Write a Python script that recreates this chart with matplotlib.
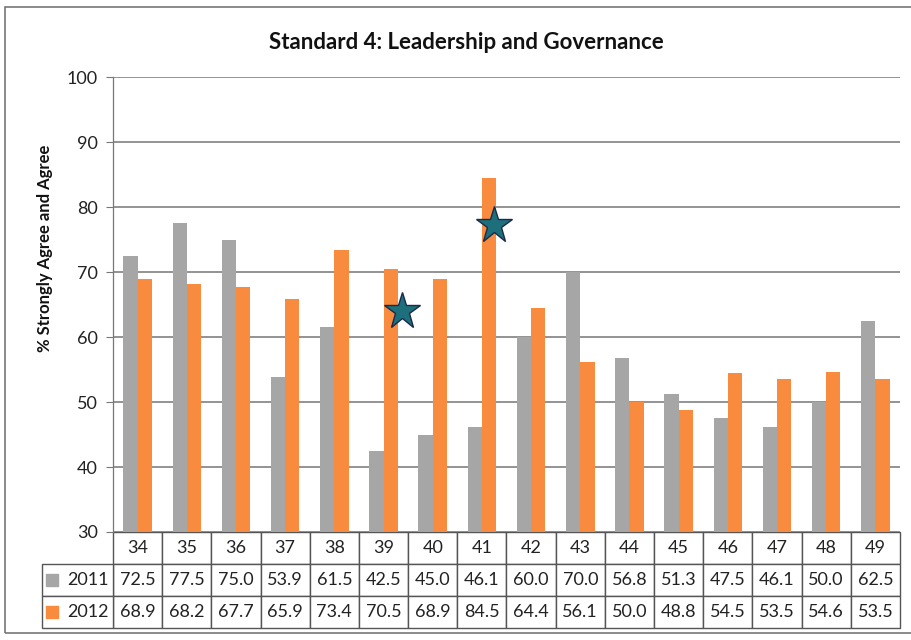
import numpy as np
import matplotlib
matplotlib.use('Agg')
import matplotlib.pyplot as plt
from matplotlib.patches import Rectangle

plt.rcParams['font.family'] = ['Lato', 'DejaVu Sans']

# Dados do gráfico
categories = ['34', '35', '36', '37', '38', '39', '40', '41',
              '42', '43', '44', '45', '46', '47', '48', '49']
values_2011 = [72.5, 77.5, 75.0, 53.9, 61.5, 42.5, 45.0, 46.1,
               60.0, 70.0, 56.8, 51.3, 47.5, 46.1, 50.0, 62.5]
values_2012 = [68.9, 68.2, 67.7, 65.9, 73.4, 70.5, 68.9, 84.5,
               64.4, 56.1, 50.0, 48.8, 54.5, 53.5, 54.6, 53.5]
series_names = ['2011', '2012']
star_categories = ['39', '41']
star_values = [64.0, 77.2]

title = 'Standard 4: Leadership and Governance'
ylabel = '% Strongly Agree and Agree'
yticks = [30, 40, 50, 60, 70, 80, 90, 100]

color_2011 = '#a6a6a6'
color_2012 = '#f98b3e'
edge = '#555555'

fig = plt.figure(figsize=(9.12, 6.4), dpi=100)
ax = fig.add_axes([0.1239, 0.16875, 0.8629, 0.7109])

x = np.arange(len(categories))
w = 0.29
ax.bar(x - w / 2, values_2011, width=w, color=color_2011, zorder=3)
ax.bar(x + w / 2, values_2012, width=w, color=color_2012, zorder=3)

# Estrelas
star_x = [categories.index(c) for c in star_categories]
offsets = [0.37, 0.24]
ax.plot([sx + o for sx, o in zip(star_x, offsets)], star_values, linestyle='none',
        marker='*', markersize=28, markerfacecolor='#1d6f7c',
        markeredgecolor='#1a2a4a', markeredgewidth=1.0, zorder=5)

ax.set_xlim(-0.5, len(categories) - 0.5)
ax.set_ylim(30, 100)
ax.set_yticks(yticks)
ax.set_xticks([])
ax.yaxis.grid(True, color='#808080', linewidth=1.2, zorder=0)
ax.tick_params(axis='y', length=5, width=0.8, color='#777777', pad=6,
               labelsize=13, labelcolor='#222222')
for s in ['top', 'right', 'bottom']:
    ax.spines[s].set_visible(False)
ax.spines['left'].set_color('#777777')
ax.spines['left'].set_linewidth(0.9)

# Tabela de dados
h = 0.211
cell_text = [categories,
             [f'{v:.1f}' for v in values_2011],
             [f'{v:.1f}' for v in values_2012]]
tbl = ax.table(cellText=cell_text, cellLoc='center',
               bbox=[0, -h, 1, h])
tbl.auto_set_font_size(False)
tbl.set_fontsize(13)
for (r, c), cell in tbl.get_celld().items():
    cell.set_edgecolor(edge)
    cell.set_linewidth(1.0)
    cell.get_text().set_color('#222222')

lw = 0.0902
lbl = ax.table(cellText=[[series_names[0]], [series_names[1]]], cellLoc='right',
               bbox=[-lw, -h, lw, h * 2 / 3])
lbl.auto_set_font_size(False)
lbl.set_fontsize(13)
for (r, c), cell in lbl.get_celld().items():
    cell.set_edgecolor(edge)
    cell.set_linewidth(1.0)
    cell.PAD = 0.06
    cell.get_text().set_color('#222222')

row_h = h / 3
ax.scatter([-0.0775, -0.0775], [-row_h * 1.5, -row_h * 2.5], marker='s', s=70,
           c=[color_2011, color_2012], transform=ax.transAxes, clip_on=False, zorder=6)

fig.text(0.511, 0.934, title, ha='center', va='center', fontsize=16, fontweight='bold',
         color='#111111')
fig.text(0.049, 0.6125, ylabel, ha='center', va='center', rotation=90, fontsize=12,
         fontweight='bold', color='#111111')

# Moldura externa
fig.patches.append(Rectangle((5 / 912, 7 / 640), 1.0, 626 / 640, transform=fig.transFigure,
                             fill=False, edgecolor='#777777', linewidth=1.2, clip_on=False))

fig.savefig('out.png', dpi=100)
